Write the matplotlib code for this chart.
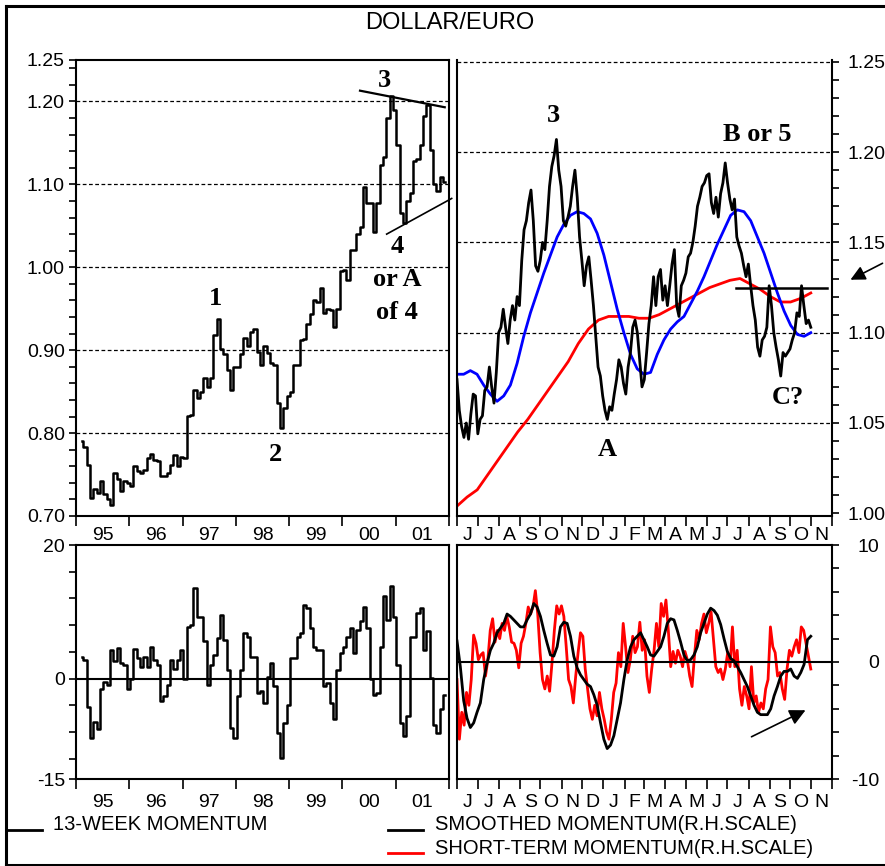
import numpy as np
import pandas as pd
import matplotlib
matplotlib.use('Agg')
import matplotlib.pyplot as plt
import matplotlib.dates as mdates
from matplotlib.lines import Line2D
from matplotlib.ticker import FixedLocator, FixedFormatter, NullFormatter, MultipleLocator

plt.rcParams['font.family'] = ['Liberation Sans', 'DejaVu Sans']
plt.rcParams['axes.unicode_minus'] = False

weekly_price = [
    0.790, 0.783, 0.761, 0.722, 0.733, 0.728, 0.742, 0.727, 0.720, 0.713,
    0.752, 0.745, 0.730, 0.742, 0.740, 0.736, 0.760, 0.754, 0.752, 0.756,
    0.770, 0.775, 0.768, 0.766, 0.748, 0.748, 0.752, 0.762, 0.773, 0.760,
    0.771, 0.770, 0.821, 0.822, 0.852, 0.842, 0.850, 0.866, 0.855, 0.866,
    0.918, 0.938, 0.902, 0.895, 0.876, 0.852, 0.880, 0.880, 0.895, 0.915,
    0.905, 0.922, 0.926, 0.898, 0.882, 0.905, 0.896, 0.885, 0.882, 0.836,
    0.806, 0.830, 0.845, 0.850, 0.882, 0.882, 0.912, 0.914, 0.932, 0.944,
    0.960, 0.958, 0.975, 0.945, 0.950, 0.948, 0.928, 0.950, 0.995, 0.997,
    0.985, 1.021, 1.021, 1.040, 1.049, 1.097, 1.078, 1.077, 1.043, 1.077,
    1.123, 1.133, 1.180, 1.206, 1.190, 1.147, 1.065, 1.053, 1.080, 1.089,
    1.128, 1.130, 1.147, 1.182, 1.196, 1.141, 1.101, 1.092, 1.109, 1.103,
]
weekly_mom = [
    3.2, 2.8, -4.3, -8.9, -6.5, -7.5, -1.5, -0.5, -1.0, 4.3,
    2.6, 4.6, 2.3, 2.0, -1.5, 0.0, 4.5, 3.1, 1.8, 3.3,
    1.8, 4.8, 2.8, 2.0, -3.4, -2.6, -1.0, 2.8, 1.5, 2.8,
    4.3, 0.0, 7.8, 8.1, 13.6, 9.3, 9.3, 5.6, -0.9, 2.0,
    3.6, 6.1, 9.6, 5.8, 1.3, -7.4, -8.9, -2.6, 1.3, 6.8,
    6.3, 3.3, 3.3, -2.1, -1.9, -3.6, 0.3, 2.3, -1.1, -8.1,
    -11.9, -6.6, -3.9, 3.1, 3.1, 6.3, 6.8, 11.1, 10.6, 7.6,
    4.8, 4.3, 4.3, -1.1, -0.6, -3.6, -6.1, 1.3, 3.8, 4.8,
    6.3, 7.6, 3.8, 7.3, 8.6, 10.8, 7.6, -0.1, -2.4, -2.1,
    4.8, 12.3, 8.8, 13.8, 9.3, 2.1, -6.6, -8.6, -5.6, 6.3,
    6.3, 9.8, 10.6, 4.3, 7.1, 0.1, -6.9, -8.1, -4.6, -2.4,
]
week_start, week_end = 1995.106, 2001.92
year_labels = ['95', '96', '97', '98', '99', '00', '01']

# ---- daily chart Jun 2000 - Oct 2001 ----
daily_price = [
    1.074, 1.057, 1.048, 1.042, 1.050, 1.041, 1.055, 1.066, 1.065, 1.044,
    1.052, 1.054, 1.068, 1.070, 1.081, 1.070, 1.061, 1.078, 1.100, 1.103,
    1.113, 1.103, 1.094, 1.107, 1.115, 1.107, 1.120, 1.115, 1.140, 1.157,
    1.162, 1.172, 1.179, 1.162, 1.137, 1.134, 1.140, 1.150, 1.146, 1.162,
    1.181, 1.192, 1.198, 1.207, 1.190, 1.181, 1.162, 1.159, 1.164, 1.170,
    1.181, 1.190, 1.175, 1.153, 1.140, 1.126, 1.137, 1.142, 1.129, 1.115,
    1.098, 1.081, 1.076, 1.065, 1.057, 1.052, 1.059, 1.057, 1.066, 1.074,
    1.085, 1.081, 1.072, 1.066, 1.081, 1.089, 1.103, 1.107, 1.100,
    1.085, 1.070, 1.074, 1.089, 1.105, 1.115, 1.131, 1.115, 1.131, 1.135,
    1.118, 1.126, 1.115, 1.126, 1.138, 1.146, 1.115, 1.109, 1.126, 1.129,
    1.133, 1.142, 1.144, 1.150, 1.159, 1.170, 1.175, 1.181, 1.183, 1.187,
    1.188, 1.172, 1.166, 1.175, 1.164, 1.177, 1.183, 1.194, 1.183, 1.174,
    1.168, 1.174, 1.153, 1.148, 1.144, 1.137, 1.131, 1.138, 1.126, 1.115,
    1.107, 1.092, 1.087, 1.096, 1.098, 1.103, 1.126, 1.115, 1.100, 1.092,
    1.085, 1.076, 1.089, 1.087, 1.089, 1.091, 1.096, 1.100, 1.111, 1.109,
    1.126, 1.115, 1.105, 1.107, 1.103,
]
avg_blue = [
    1.077, 1.077, 1.079, 1.077, 1.071, 1.066, 1.062, 1.065, 1.071, 1.083,
    1.098, 1.111, 1.122, 1.133, 1.143, 1.153, 1.160, 1.165, 1.167, 1.166,
    1.163, 1.155, 1.143, 1.128, 1.113, 1.100, 1.088, 1.080, 1.077, 1.078,
    1.088, 1.096, 1.102, 1.106, 1.109, 1.116, 1.123, 1.131, 1.140, 1.149,
    1.157, 1.165, 1.168, 1.167, 1.162, 1.153, 1.144, 1.133, 1.122, 1.112,
    1.104, 1.099, 1.098, 1.100,
]
avg_red = [
    1.004, 1.009, 1.013, 1.021, 1.029, 1.037, 1.045, 1.052, 1.060, 1.068,
    1.076, 1.084, 1.094, 1.102, 1.107, 1.109, 1.109, 1.109, 1.108, 1.108,
    1.110, 1.113, 1.116, 1.119, 1.122, 1.125, 1.127, 1.129, 1.130, 1.127,
    1.124, 1.120, 1.117, 1.117, 1.119, 1.122,
]
smooth_mom = [
    1.8, -0.4, -3.3, -4.8, -5.6, -5.2, -4.3, -3.5, -1.5, -0.1,
    1.0, 1.6, 2.5, 2.9, 3.3, 4.1, 3.9, 3.6, 3.3, 3.0,
    3.0, 3.6, 4.1, 5.0, 4.7, 3.9, 2.7, 1.6, 0.6, 0.5,
    1.3, 3.0, 3.4, 3.3, 2.2, 0.5, -0.5, -1.1, -1.5, -1.9,
    -2.1, -2.8, -3.7, -5.2, -6.6, -7.4, -7.1, -6.3, -4.9, -3.5,
    -1.5, 0.2, 1.3, 1.9, 2.2, 2.5, 1.9, 1.3, 0.6, 0.5,
    0.9, 1.3, 2.2, 3.3, 3.7, 3.6, 2.7, 1.7, 0.6, 0.1,
    0.2, 0.6, 1.3, 2.5, 3.3, 4.1, 4.6, 4.4, 4.0, 3.2,
    2.0, 0.9, 0.3, 0.1, -0.4, -0.9, -1.5, -2.1, -2.9, -3.7,
    -4.3, -4.5, -4.5, -4.5, -4.0, -2.9, -2.1, -1.2, -0.8, -0.8,
    -0.6, -1.2, -1.4, -0.9, -0.2, 1.9, 2.2,
]
short_mom = [
    -1.5, -6.6, -4.3, -5.4, -2.6, -3.7, -1.5, 2.3, 1.6, 0.2,
    0.6, 0.8, -1.2, 0.2, 2.7, 3.7, 1.7, 2.7, 2.0, 3.3,
    2.7, 3.9, 3.0, 1.7, 1.6, 1.0, -0.5, 1.6, 2.2, 3.3,
    4.7, 4.1, 4.7, 6.1, 4.1, 0.8, -1.5, -2.3, -1.2, -2.5,
    -0.1, 2.7, 4.8, 4.1, 4.8, 3.9, 1.3, -1.5, -2.1, -3.5,
    -1.2, 0.8, 2.5, 2.2, -0.6, -2.3, -4.0, -4.9, -3.7, -4.6,
    -2.6, -4.0, -4.9, -6.0, -6.6, -4.9, -2.6, -1.8, 0.8, -0.4,
    3.3, 1.3, -0.9, 0.2, 2.2, 0.8, 1.3, 3.4, 1.0, 1.9,
    -1.2, -2.6, -0.6, 1.0, 3.3, 1.3, 5.0, 3.9, 5.3, 2.7,
    -0.4, 0.9, -0.1, 1.0, 0.5, -0.4, 0.9, 0.2, -1.2, -2.1,
    0.5, 2.7, 1.9, 3.3, 4.1, 2.5, 3.3, 4.3, 1.9, -0.4,
    -0.9, -0.6, -1.5, -0.6, 0.8, -0.4, 3.0, -0.4, 1.0, -2.3,
    -3.7, -2.1, -2.9, -4.0, -0.4, -3.5, -2.9, -4.3, -3.5, -4.0,
    -2.3, -1.5, 3.0, 1.3, 0.8, -1.2, -0.9, -2.3, -3.2, -0.6,
    1.0, 0.5, 1.3, 1.9, 0.8, 3.0, 2.7, 1.6, 0.5, -0.6,
]
day_start, day_end = '2000-06-01', '2001-10-31'
month_labels = list('JJASONDJFMAMJJASON')

# hand-drawn lines on the chart
tri_upper = ([2000.33, 2001.92], [1.213, 1.193])
tri_lower = ([2000.83, 2002.05], [1.040, 1.083])
neck_dates, neck_level = ['2001-07-13', '2001-11-24'], 1.125

W, H = 885, 866
fig = plt.figure(figsize=(W / 100, H / 100), dpi=100)


def rect(x0, y0, x1, y1):
    return [x0 / W, 1 - y1 / H, (x1 - x0) / W, (y1 - y0) / H]


ax_tl = fig.add_axes(rect(76, 60, 449, 516))
ax_tr = fig.add_axes(rect(457, 60, 832, 516))
ax_bl = fig.add_axes(rect(76, 545, 449, 779))
ax_br = fig.add_axes(rect(457, 545, 832, 779))

for ax in (ax_tl, ax_tr, ax_bl, ax_br):
    for s in ax.spines.values():
        s.set_linewidth(1.5)
ax_tr.spines['top'].set_visible(False)

dash = (0, (3, 2))
tick_kw = dict(labelsize=14, width=1.2, direction='out')


def year_axis(ax, pad):
    ax.set_xlim(1995, 2002)
    ax.xaxis.set_major_locator(FixedLocator(range(1995, 2003)))
    ax.xaxis.set_major_formatter(NullFormatter())
    ax.xaxis.set_minor_locator(FixedLocator(np.arange(1995.5, 2002, 1)))
    ax.xaxis.set_minor_formatter(FixedFormatter(year_labels))
    ax.tick_params(axis='x', which='major', length=7, **tick_kw)
    ax.tick_params(axis='x', which='minor', length=0, pad=pad, labelsize=14)


month_starts = pd.date_range('2000-06-01', '2001-12-01', freq='MS')
month_num = mdates.date2num(month_starts)
month_mid = (month_num[:-1] + month_num[1:]) / 2


def month_axis(ax, pad):
    ax.set_xlim(month_num[0], month_num[-1])
    ax.xaxis.set_major_locator(FixedLocator(month_num))
    ax.xaxis.set_major_formatter(NullFormatter())
    ax.xaxis.set_minor_locator(FixedLocator(month_mid))
    ax.xaxis.set_minor_formatter(FixedFormatter(month_labels))
    ax.tick_params(axis='x', which='major', length=7, **tick_kw)
    ax.tick_params(axis='x', which='minor', length=0, pad=pad, labelsize=14)


def day_x(n):
    return np.linspace(mdates.date2num(pd.Timestamp(day_start)),
                       mdates.date2num(pd.Timestamp(day_end)), n)


# ---- top left: weekly price ----
wx = np.linspace(week_start, week_end, len(weekly_price))
ax_tl.plot(wx, weekly_price, color='black', lw=1.8, drawstyle='steps-mid')
for g in [0.80, 0.90, 1.00, 1.10, 1.20]:
    ax_tl.axhline(g, color='black', ls=dash, lw=0.9, zorder=0)
ax_tl.set_ylim(0.70, 1.25)
ax_tl.yaxis.set_major_locator(FixedLocator([0.70, 0.80, 0.90, 1.00, 1.10, 1.20, 1.25]))
ax_tl.yaxis.set_major_formatter(plt.FormatStrFormatter('%.2f'))
ax_tl.yaxis.set_minor_locator(MultipleLocator(0.02))
ax_tl.tick_params(axis='y', which='both', length=5, pad=3, **tick_kw)
year_axis(ax_tl, 8)
ax_tl.plot(*tri_upper, color='black', lw=1.6, clip_on=False)
ax_tl.plot(*tri_lower, color='black', lw=1.2, clip_on=False)

ann = dict(family=['Liberation Serif', 'DejaVu Serif'], weight='bold', size=19,
           ha='center', va='center')
ax_tl.text(0.828, 0.956, '3', transform=ax_tl.transAxes, **ann)
ax_tl.text(0.861, 0.590, '4', transform=ax_tl.transAxes, **ann)
ax_tl.text(0.861, 0.518, 'or A', transform=ax_tl.transAxes, **ann)
ax_tl.text(0.861, 0.447, 'of 4', transform=ax_tl.transAxes, **ann)
ax_tl.text(0.373, 0.478, '1', transform=ax_tl.transAxes, **ann)
ax_tl.text(0.534, 0.134, '2', transform=ax_tl.transAxes, **ann)

# ---- top right: daily price with averages ----
ax_tr.plot(day_x(len(avg_red)), avg_red, color='#ff0000', lw=2)
ax_tr.plot(day_x(len(avg_blue)), avg_blue, color='#0000ff', lw=2)
ax_tr.plot(day_x(len(daily_price)), daily_price, color='black', lw=2)
for g in [1.05, 1.10, 1.15, 1.20, 1.25]:
    ax_tr.axhline(g, color='black', ls=dash, lw=0.9, zorder=0)
ax_tr.set_ylim(0.9985, 1.251)
ax_tr.yaxis.tick_right()
ax_tr.yaxis.set_major_locator(FixedLocator([1.00, 1.05, 1.10, 1.15, 1.20, 1.25]))
ax_tr.yaxis.set_major_formatter(plt.FormatStrFormatter('%.2f'))
ax_tr.yaxis.set_minor_locator(MultipleLocator(0.01))
ax_tr.tick_params(axis='y', which='both', length=5, pad=6, **tick_kw)
month_axis(ax_tr, 8)
ax_tr.plot(mdates.date2num(pd.to_datetime(neck_dates)), [neck_level] * 2,
           color='black', lw=1.8, clip_on=False)
ax_tr.text(0.256, 0.879, '3', transform=ax_tr.transAxes, **ann)
ax_tr.text(0.800, 0.836, 'B or 5', transform=ax_tr.transAxes, **ann)
ax_tr.text(0.400, 0.145, 'A', transform=ax_tr.transAxes, **ann)
ax_tr.text(0.883, 0.259, 'C?', transform=ax_tr.transAxes, **ann)

# ---- bottom left: 13-week momentum ----
mx = np.linspace(week_start, week_end, len(weekly_mom))
ax_bl.plot(mx, weekly_mom, color='black', lw=1.8, drawstyle='steps-mid')
ax_bl.axhline(0, color='black', lw=1.5)
ax_bl.set_ylim(-15, 20)
ax_bl.yaxis.set_major_locator(FixedLocator([-15, 0, 20]))
ax_bl.yaxis.set_minor_locator(FixedLocator([-12, -8, -4, 4, 8, 12, 16]))
ax_bl.tick_params(axis='y', which='both', length=5, pad=3, **tick_kw)
year_axis(ax_bl, 11)

# ---- bottom right: momentum ----
ax_br.plot(day_x(len(short_mom)), short_mom, color='#ff0000', lw=2)
ax_br.plot(day_x(len(smooth_mom)), smooth_mom, color='black', lw=2)
ax_br.axhline(0, color='black', lw=1.5)
ax_br.set_ylim(-10, 10)
ax_br.yaxis.tick_right()
ax_br.yaxis.set_major_locator(FixedLocator([-10, 0, 10]))
ax_br.yaxis.set_minor_locator(MultipleLocator(2))
ax_br.tick_params(axis='y', which='both', length=5, pad=29, **tick_kw)
for lab in ax_br.get_yticklabels():
    lab.set_horizontalalignment('right')
month_axis(ax_br, 11)

# arrows
fig.add_artist(plt.Annotation('', xy=(848 / W, 1 - 281 / H), xytext=(885 / W, 1 - 262 / H),
                              xycoords='figure fraction', textcoords='figure fraction',
                              arrowprops=dict(arrowstyle='-|>', color='black', lw=1.2,
                                              mutation_scale=22)))
fig.add_artist(plt.Annotation('', xy=(808 / W, 1 - 709 / H), xytext=(749 / W, 1 - 738 / H),
                              xycoords='figure fraction', textcoords='figure fraction',
                              arrowprops=dict(arrowstyle='-|>', color='black', lw=1.2,
                                              mutation_scale=24)))

# title, legend, frame
fig.text(450 / W, 1 - 23 / H, 'DOLLAR/EURO', ha='center', va='center', fontsize=17)


def fig_line(x0, x1, y, color, lw=2):
    fig.add_artist(Line2D([x0 / W, x1 / W], [1 - y / H] * 2, color=color, lw=lw,
                          transform=fig.transFigure))


fig_line(7, 42, 830, 'black')
fig.text(53 / W, 1 - 830 / H, '13-WEEK MOMENTUM', fontsize=14.5, va='baseline')
fig_line(388, 423, 830, 'black')
fig.text(435 / W, 1 - 830 / H, 'SMOOTHED MOMENTUM(R.H.SCALE)', fontsize=14.5, va='baseline')
fig_line(388, 423, 853, '#ff0000')
fig.text(435 / W, 1 - 854 / H, 'SHORT-TERM MOMENTUM(R.H.SCALE)', fontsize=14.5, va='baseline')

fig_line(6, W, 6, 'black', 2.2)
fig_line(6, W, 865, 'black', 2.2)
fig.add_artist(Line2D([6 / W] * 2, [1 - 6 / H, 1 - 865 / H], color='black', lw=2.2,
                      transform=fig.transFigure))

fig.savefig('out.png', dpi=100)
